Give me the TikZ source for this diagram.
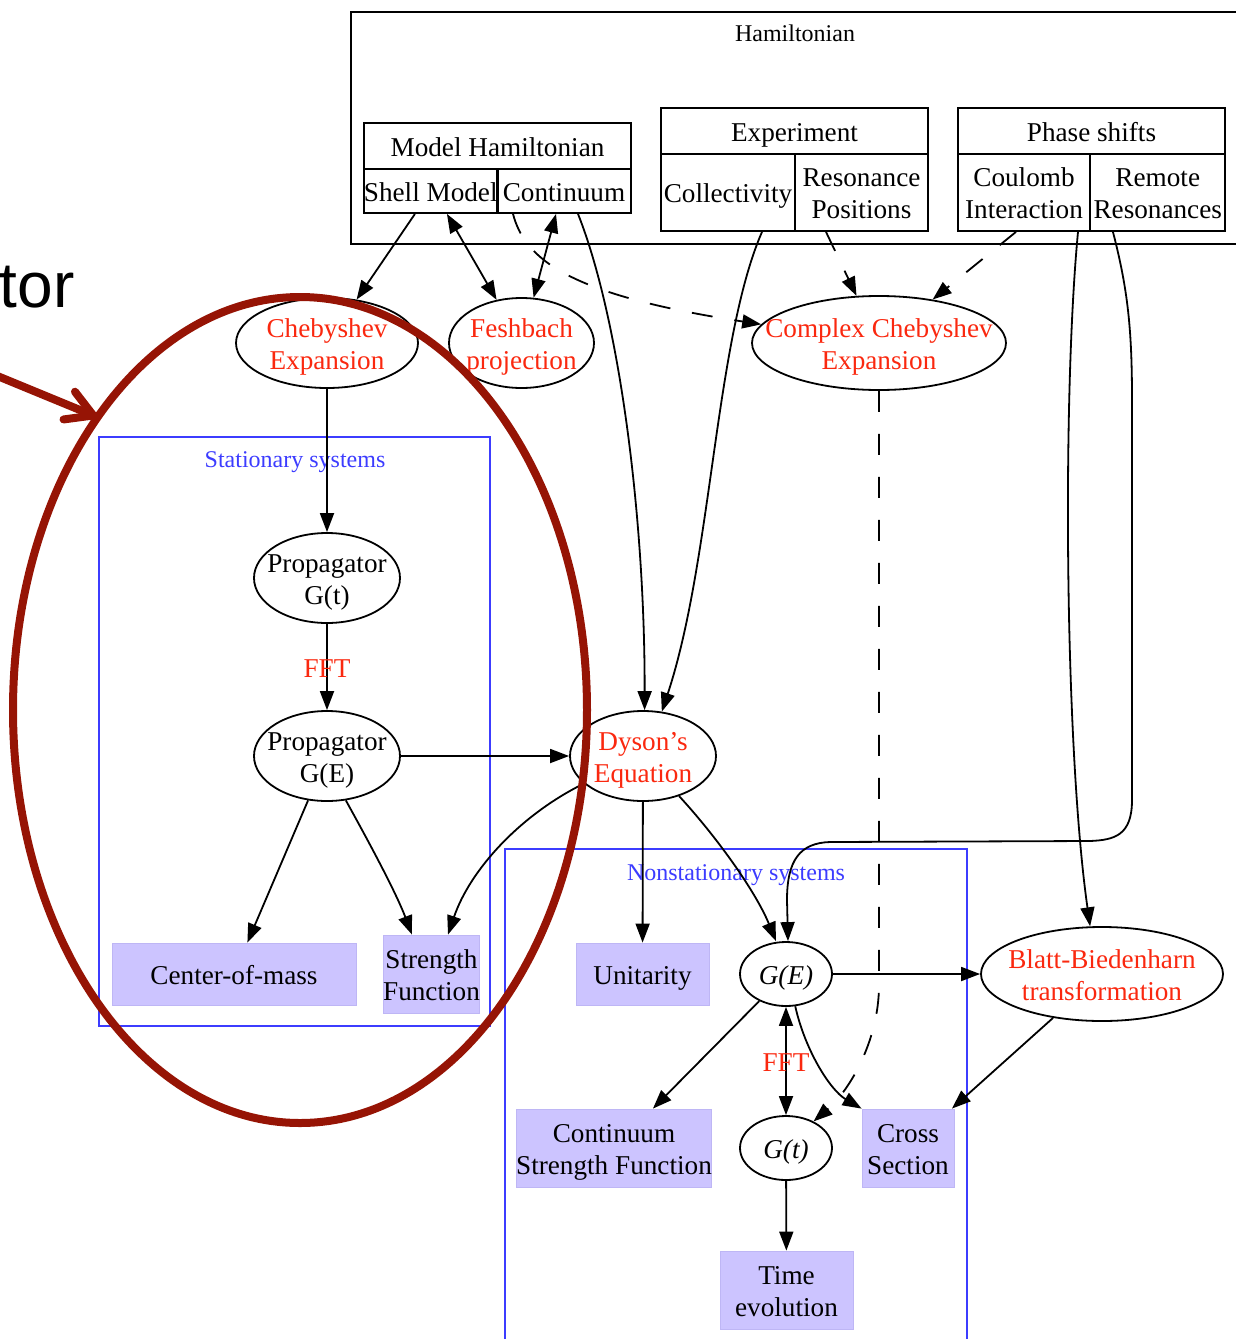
\documentclass[tikz,border=0pt]{standalone}
\usepackage{fontspec}
\setmainfont{Liberation Serif}
\newfontfamily\arialfont{Liberation Sans}
\usetikzlibrary{shapes.geometric,arrows.meta,calc}
\definecolor{rtext}{RGB}{250,40,15}
\definecolor{cblue}{RGB}{60,60,255}
\definecolor{bfill}{RGB}{204,196,255}
\definecolor{bline}{RGB}{190,182,245}
\definecolor{dred}{RGB}{150,20,5}
\begin{document}
\begin{tikzpicture}[x=0.5pt,y=-0.5pt,
  every node/.style={font=\fontsize{13.6}{16}\selectfont},
  one/.style={text height=10.5pt,text depth=0.5pt},
  two/.style={text height=27.5pt,text depth=1.5pt},
  ell/.style={ellipse,draw,line width=0.9pt,inner sep=-40pt,align=center},
  rt/.style={text=rtext},
  cell/.style={rectangle,draw,line width=0.9pt,inner sep=0pt,align=center},
  fbox/.style={rectangle,fill=bfill,draw=bline,line width=0.4pt,inner sep=0pt,align=center},
  clus/.style={draw=cblue,line width=0.7pt},
  ctitle/.style={one,text=cblue,font=\fontsize{12}{14}\selectfont},
  conn/.style={line width=0.9pt,-{Triangle[length=9.5pt,width=7pt]}},
  bconn/.style={line width=0.9pt,{Triangle[length=9.5pt,width=7pt]}-{Triangle[length=9.5pt,width=7pt]}},
  dconn/.style={conn,dash pattern=on 10.5pt off 11pt},
  fft/.style={one,text=rtext,inner sep=0pt},
]
\useasboundingbox (0,0) rectangle (1236,1339);

% clusters
\draw[line width=0.9pt] (351,12) rectangle (1245,244);
\node[one,font=\fontsize{12}{14}\selectfont] (hamt) at (795,31) {Hamiltonian};
\draw[clus] (99,437) rectangle (490,1026);
\node[ctitle] (stt) at (295,457) {Stationary systems};
\draw[clus] (505,849) rectangle (967,1350);
\node[ctitle] (nst) at (736,870) {Nonstationary systems};

% records
\node[cell,one,minimum width=133.5pt,minimum height=23pt] (mh) at (497.5,146) {Model Hamiltonian};
\node[cell,one,minimum width=66.5pt,minimum height=22pt] (shell) at (430.75,191) {Shell Model};
\node[cell,one,minimum width=67pt,minimum height=22pt] (cont) at (564,191) {Continuum};

\node[cell,one,minimum width=133.5pt,minimum height=23pt] (exp) at (794.5,131) {Experiment};
\node[cell,one,minimum width=67pt,minimum height=38.5pt] (coll) at (728,192.5) {Collectivity};
\node[cell,two,minimum width=66.5pt,minimum height=38.5pt] (res) at (861.5,192.5) {Resonance\\Positions};

\node[cell,one,minimum width=133.5pt,minimum height=23pt] (phase) at (1091.5,131) {Phase shifts};
\node[cell,two,minimum width=66pt,minimum height=38.5pt] (coul) at (1024,192.5) {Coulomb\\Interaction};
\node[cell,two,minimum width=67.5pt,minimum height=38.5pt] (rem) at (1157.75,192.5) {Remote\\Resonances};

% ellipses
\node[ell,two,rt,minimum width=91pt,minimum height=45pt] (cheb) at (327,343) {Chebyshev\\Expansion};
\node[ell,two,rt,minimum width=72.5pt,minimum height=45pt] (fesh) at (521.5,343) {Feshbach\\projection};
\node[ell,two,rt,minimum width=127pt,minimum height=47pt] (cchev) at (879,343) {Complex Chebyshev\\Expansion};
\node[ell,two,minimum width=73pt,minimum height=45pt] (propt) at (327,578) {Propagator\\G(t)};
\node[ell,two,minimum width=73pt,minimum height=45pt] (prope) at (327,756) {Propagator\\G(E)};
\node[ell,two,rt,minimum width=73pt,minimum height=45pt] (dyson) at (643,756) {Dyson’s\\Equation};
\node[ell,one,minimum width=46pt,minimum height=32pt] (ge) at (786,974) {\textit{G(E)}};
\node[ell,one,minimum width=46pt,minimum height=32pt] (gt) at (786,1148) {\textit{G(t)}};
\node[ell,two,rt,minimum width=121pt,minimum height=47pt] (blatt) at (1102,974) {Blatt-Biedenharn\\transformation};

% filled boxes
\node[fbox,one,minimum width=122pt,minimum height=31pt] (com) at (234,974) {Center-of-mass};
\node[fbox,two,minimum width=46.5pt,minimum height=39pt] (sf) at (431.5,974) {Strength\\Function};
\node[fbox,one,minimum width=66.5pt,minimum height=31pt] (uni) at (642.5,974) {Unitarity};
\node[fbox,two,minimum width=97pt,minimum height=39pt] (csf) at (614,1148) {Continuum\\Strength Function};
\node[fbox,two,minimum width=46pt,minimum height=39pt] (cs) at (908,1148) {Cross\\Section};
\node[fbox,two,minimum width=66.5pt,minimum height=39pt] (tev) at (786.5,1290) {Time\\evolution};

% edges from Hamiltonian
\draw[conn] ([xshift=-7.9pt]shell.south) -- (cheb);
\draw[bconn] ([xshift=8.1pt]shell.south) -- (fesh);
\draw[bconn] ([xshift=-4pt]cont.south) -- (fesh);
\draw[conn] ([xshift=7pt]cont.south) .. controls (620,320) and (645,520) .. (dyson.88);
\draw[dconn] ([xshift=-25.5pt]cont.south) .. controls (525,260) and (570,295) .. (cchev.171);
\draw[conn] ([xshift=17pt]coll.south) .. controls (715,340) and (712,560) .. (dyson.67);
\draw[dconn] ([xshift=-17.75pt]res.south) -- (cchev);
\draw[dconn] ([xshift=-4pt]coul.south) -- (cchev);
\draw[conn] ([xshift=27pt]coul.south) .. controls (1062,400) and (1065,750) .. (blatt.104);
\draw[conn] ([xshift=-22.4pt]rem.south) .. controls (1128,290) and (1132,330) .. (1132,400)
   -- (1132,800) .. controls (1132,835) and (1115,840) .. (1090,841)
   -- (830,842) .. controls (800,843) and (787,860) .. (787,900) -- ([xshift=1pt]ge.north);

% stationary part
\draw[conn] (cheb) -- (propt);
\draw[conn] (propt) -- (prope) node[fft,midway] {FFT};
\draw[conn] (prope) -- (dyson);
\draw[conn] (prope) -- (com);
\draw[conn] (prope.-67) .. controls (365,835) and (395,890) .. ([xshift=-9.75pt]sf.north);
\draw[conn] (dyson.205) .. controls (520,815) and (470,870) .. ([xshift=8.25pt]sf.north);

% nonstationary part
\draw[conn] (dyson) -- (uni);
\draw[conn] (dyson.-48) .. controls (715,835) and (755,890) .. ([xshift=-5pt]ge.north);
\draw[dconn] (cchev.south) -- (879,985) .. controls (879,1040) and (850,1090) .. (gt.44);
\draw[conn] (ge) -- (blatt);
\draw[conn] (ge) -- (csf);
\draw[bconn] (ge) -- (gt) node[fft,midway] {FFT};
\draw[conn] (ge.-74) .. controls (805,1050) and (830,1090) .. (cs.north west);
\draw[conn] (blatt) -- (cs);
\draw[conn] (gt) -- (tev);

% overlay annotation
\node[font=\arialfont\fontsize{32}{36}\selectfont,anchor=base east,inner sep=0pt] (tor) at (75,307) {tor};
\coordinate (ast) at (-5,375);
\coordinate (aend) at (97,417);
\draw[dred,line width=4pt,line cap=round,-{Straight Barb[length=13pt,width=15pt,line cap=round,line join=round]}] (ast) -- (aend);
\draw[dred,line width=4pt] (300,710) ellipse [x radius=287,y radius=413];
\end{tikzpicture}
\end{document}
